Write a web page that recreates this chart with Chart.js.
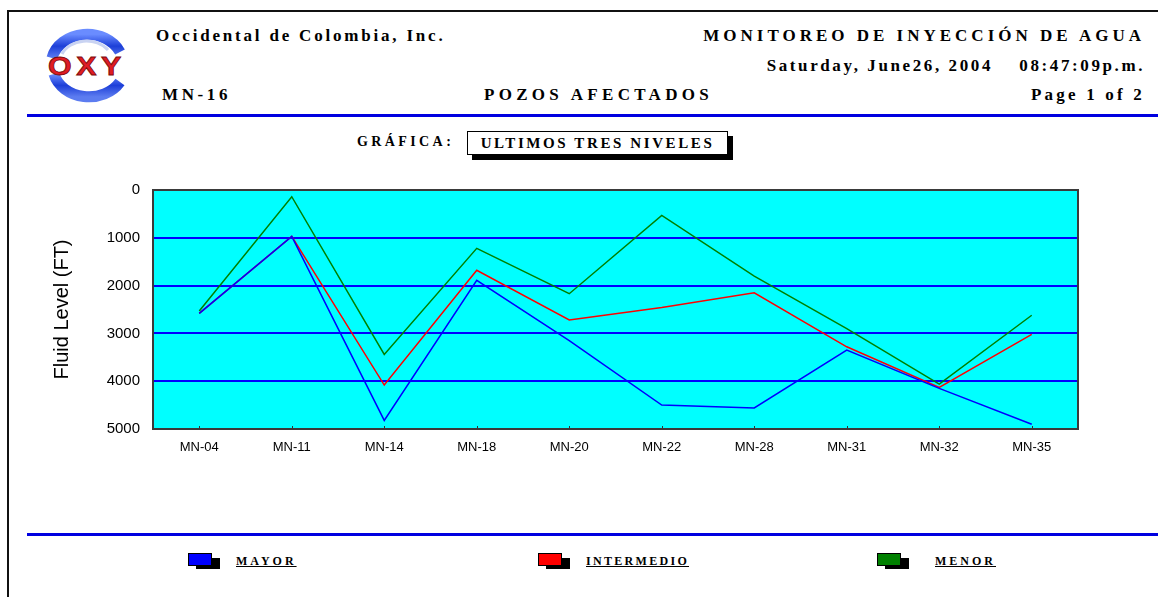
<!DOCTYPE html>
<html>
<head>
<meta charset="utf-8">
<script src="https://cdn.jsdelivr.net/npm/chart.js@4.4.1/dist/chart.umd.min.js"></script>
<style>
  body { margin: 0; background: #fff; }
  #page { position: relative; width: 1158px; height: 597px; overflow: hidden; font-family: "Liberation Serif", "DejaVu Serif", serif; color: #000; }
  .frame { position: absolute; left: 7px; top: 10px; width: 1160px; height: 600px; border-left: 2px solid #111; border-top: 2px solid #111; }
  .txt { position: absolute; white-space: nowrap; font-weight: bold; }
  .rule { position: absolute; left: 27px; width: 1131px; height: 3px; background: #0000e0; }
  .titlebox { position: absolute; left: 467px; top: 131px; width: 259px; height: 22px; border: 1.5px solid #000; background: #fff; box-shadow: 5px 5px 0 #000; font-weight: bold; font-size: 15px; letter-spacing: 2.6px; text-align: center; line-height: 22px; }
  .legend { position: absolute; top: 553px; }
  .legend .sw { position: absolute; left: 0; top: 0; width: 22px; height: 11px; border: 1px solid #000; }
  .legend .sh { position: absolute; left: 8px; top: 5px; width: 24px; height: 11px; background: #000; }
  .legend .lab { position: absolute; top: 1px; font-weight: bold; font-size: 12px; letter-spacing: 3px; text-decoration: underline; }
  #wrap { position: absolute; left: 40px; top: 168px; width: 1050px; height: 292px; }
</style>
</head>
<body>
<div id="page">
  <div class="frame"></div>

  <svg style="position:absolute;left:40px;top:28px" width="92" height="76" viewBox="0 0 92 76">
    <defs>
      <linearGradient id="ring" x1="0" y1="0" x2="0" y2="1">
        <stop offset="0" stop-color="#6a8cff"/>
        <stop offset="0.5" stop-color="#1d3fd8"/>
        <stop offset="1" stop-color="#5c7cf0"/>
      </linearGradient>
    </defs>
    <path d="M12 30 A36 30 0 0 1 80 24" fill="none" stroke="url(#ring)" stroke-width="11"/>
    <path d="M14 46 A36 30 0 0 0 80 54" fill="none" stroke="url(#ring)" stroke-width="11"/>
    <path d="M22 26 A26 20 0 0 1 68 22" fill="none" stroke="#c9d3f2" stroke-width="3"/>
    <text x="47" y="47" text-anchor="middle" font-family="Liberation Sans, Arial, sans-serif" font-weight="bold" font-size="26" fill="#e01c24" stroke="#7a0a0a" stroke-width="0.8" letter-spacing="4" textLength="78" lengthAdjust="spacingAndGlyphs">OXY</text>
  </svg>

  <div class="txt" style="left:156px;top:26px;font-size:17px;letter-spacing:2.8px">Occidental de Colombia, Inc.</div>
  <div class="txt" style="left:162px;top:85px;font-size:17px;letter-spacing:3.6px">MN-16</div>
  <div class="txt" style="left:484px;top:85px;font-size:17px;letter-spacing:4.3px">POZOS AFECTADOS</div>
  <div class="txt" style="right:13px;top:26px;font-size:17px;letter-spacing:4px">MONITOREO DE INYECCIÓN DE AGUA</div>
  <div class="txt" style="right:165px;top:56px;font-size:17px;letter-spacing:2.6px">Saturday, June26, 2004</div>
  <div class="txt" style="right:13px;top:56px;font-size:17px;letter-spacing:2.6px">08:47:09p.m.</div>
  <div class="txt" style="right:13px;top:85px;font-size:17px;letter-spacing:3.2px">Page 1 of 2</div>
  <div class="rule" style="top:114px"></div>

  <div class="txt" style="left:357px;top:134px;font-size:14px;letter-spacing:3.4px">GRÁFICA:</div>
  <div class="titlebox">ULTIMOS TRES NIVELES</div>

  <div id="wrap"><canvas id="chart"></canvas></div>

  <div class="rule" style="top:533px"></div>

  <div class="legend" style="left:188px"><div class="sh"></div><div class="sw" style="background:#0000ff"></div><div class="lab" style="left:48px">MAYOR</div></div>
  <div class="legend" style="left:538px"><div class="sh"></div><div class="sw" style="background:#ff0000"></div><div class="lab" style="left:48px;letter-spacing:2.3px">INTERMEDIO</div></div>
  <div class="legend" style="left:877px"><div class="sh"></div><div class="sw" style="background:#008000"></div><div class="lab" style="left:58px">MENOR</div></div>
</div>

<script>
const pozos = ['MN-04', 'MN-11', 'MN-14', 'MN-18', 'MN-20', 'MN-22', 'MN-28', 'MN-31', 'MN-32', 'MN-35'];
const mayor = [2580, 970, 4820, 1890, 3150, 4500, 4560, 3350, 4150, 4900];
const intermedio = [2580, 970, 4080, 1680, 2720, 2460, 2150, 3280, 4130, 3020];
const menor = [2530, 140, 3440, 1220, 2170, 530, 1800, 2900, 4060, 2620];
const nivelesTicks = [0, 1000, 2000, 3000, 4000, 5000];

// fondo cyan y marco del area de la grafica
const plotArea = {
    id: 'plotArea',
    beforeDraw(chart) {
        const { ctx, chartArea: a } = chart;
        ctx.save();
        ctx.fillStyle = '#00ffff';
        ctx.fillRect(a.left, a.top, a.right - a.left, a.bottom - a.top);
        ctx.restore();
    },
    afterDatasetsDraw(chart) {
        const { ctx, chartArea: a } = chart;
        const x = chart.scales.x;
        ctx.save();
        ctx.strokeStyle = '#333';
        ctx.lineWidth = 1;
        x.ticks.forEach((t, i) => {
            const px = Math.round(x.getPixelForTick(i)) + 0.5;
            ctx.beginPath();
            ctx.moveTo(px, a.bottom);
            ctx.lineTo(px, a.bottom - 3);
            ctx.stroke();
        });
        ctx.strokeStyle = '#3a3a3a';
        ctx.lineWidth = 2;
        ctx.strokeRect(a.left, a.top, a.right - a.left, a.bottom - a.top);
        ctx.restore();
    }
};

const serie = (label, data, color) => ({
    label, data, borderColor: color, backgroundColor: color,
    borderWidth: 1.5, pointRadius: 0, tension: 0, fill: false
});

new Chart(document.getElementById('chart'), {
    type: 'line',
    data: {
        labels: pozos,
        datasets: [
            serie('MAYOR', mayor, '#0000ff'),
            serie('INTERMEDIO', intermedio, '#ff0000'),
            serie('MENOR', menor, '#008000')
        ]
    },
    options: {
        responsive: true,
        maintainAspectRatio: false,
        animation: false,
        layout: { padding: { top: 9, right: 12, left: 0, bottom: 0 } },
        plugins: { legend: { display: false }, tooltip: { enabled: false } },
        scales: {
            x: {
                offset: true,
                grid: { display: false, drawTicks: false },
                border: { display: false },
                ticks: { color: '#000', font: { family: 'Liberation Sans', size: 13 }, padding: 11, maxRotation: 0 },
                afterFit(s) { s.height = 31; }
            },
            y: {
                reverse: true,
                min: 0,
                max: 5000,
                afterBuildTicks(s) { s.ticks = nivelesTicks.map(v => ({ value: v })); },
                grid: { color: '#0000ff', lineWidth: 2, drawTicks: false },
                border: { display: false },
                ticks: { color: '#000', font: { family: 'Liberation Sans', size: 15 }, padding: 13, callback: v => String(v) },
                title: { display: true, text: 'Fluid Level (FT)', color: '#000', font: { family: 'Liberation Sans', size: 20 }, padding: { top: 10, bottom: 0 } },
                afterFit(s) { s.width = 113; }
            }
        }
    },
    plugins: [plotArea]
});
</script>
</body>
</html>
